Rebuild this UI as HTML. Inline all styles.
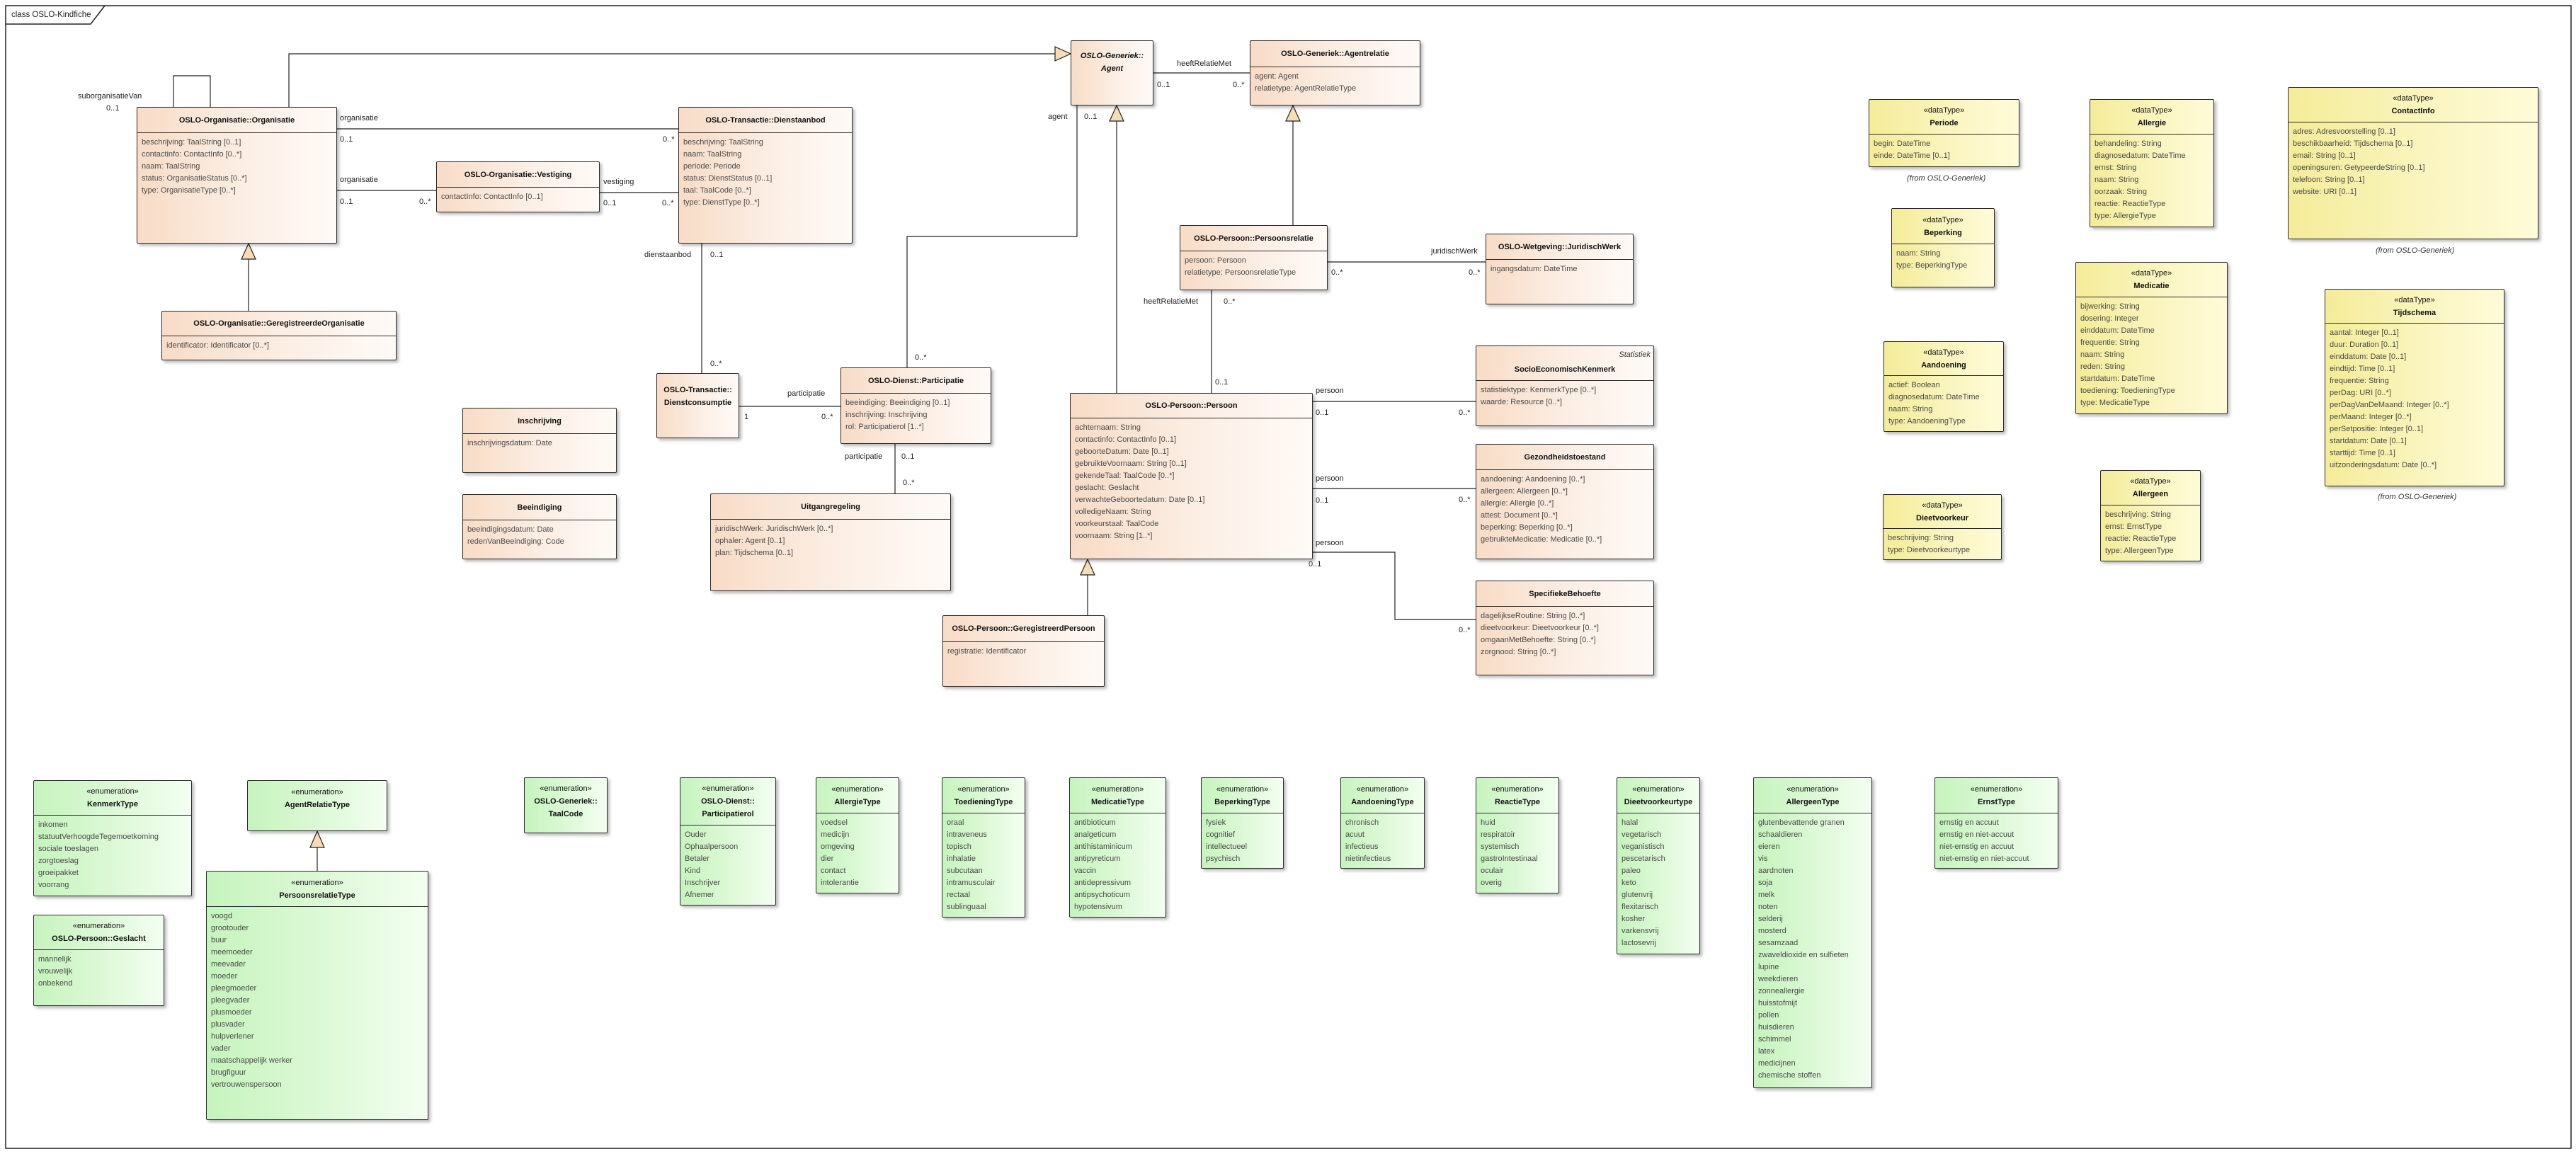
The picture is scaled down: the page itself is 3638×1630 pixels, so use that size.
<!DOCTYPE html>
<html><head><meta charset="utf-8">
<style>
html,body{margin:0;padding:0;background:#fff;}
body{width:3638px;height:1630px;position:relative;overflow:hidden;font-family:"Liberation Sans",sans-serif;}
.b{position:absolute;border:1px solid #2a2a2a;box-shadow:3px 3px 4px rgba(0,0,0,.28);border-radius:2px;font-size:11px;box-sizing:border-box;overflow:hidden;}
.c{background:linear-gradient(to right,#f8dcc6 0%,#fcefe5 55%,#fffaf7 100%);}
.d{background:linear-gradient(to right,#f4ec98 0%,#faf5bf 55%,#fffbd8 100%);}
.e{background:linear-gradient(to right,#c6f4bd 0%,#def9d8 55%,#f3fff1 100%);}
.h{box-sizing:border-box;border-bottom:1px solid #2a2a2a;display:flex;flex-direction:column;justify-content:center;align-items:center;text-align:center;line-height:18px;color:#111;}
.n{border-bottom:none;}
.h b{font-weight:bold;}
.a{color:#4a4a4a;line-height:17px;padding:5px 0 0 6px;white-space:nowrap;}
.s{position:absolute;font-size:11px;color:#333;font-style:italic;white-space:nowrap;}
svg{position:absolute;left:0;top:0;}
</style></head><body>
<svg width="3638" height="1630" viewBox="0 0 3638 1630">
<g fill="none" stroke="#222" stroke-width="1.5">
<rect x="8" y="8" width="3623" height="1614"/>
<polyline points="8,34 128,34 148,8"/>
</g>
<g fill="none" stroke="#222" stroke-width="1.2">
<polyline points="245,151 245,107 297,107 297,151"/>
<polyline points="408,151 408,76 1490,76"/>
<line x1="476" y1="182" x2="958" y2="182"/>
<line x1="476" y1="269" x2="616" y2="269"/>
<line x1="847" y1="272" x2="958" y2="272"/>
<line x1="351" y1="439" x2="351" y2="366"/>
<line x1="991" y1="344" x2="991" y2="527"/>
<line x1="1044" y1="574" x2="1187" y2="574"/>
<line x1="1264" y1="627" x2="1264" y2="697"/>
<polyline points="1521,149 1521,334 1281,334 1281,519"/>
<line x1="1629" y1="103" x2="1765" y2="103"/>
<line x1="1577" y1="555" x2="1577" y2="171"/>
<line x1="1826" y1="318" x2="1826" y2="171"/>
<line x1="1875" y1="370" x2="2098" y2="370"/>
<line x1="1711" y1="410" x2="1711" y2="555"/>
<line x1="1854" y1="567" x2="2084" y2="567"/>
<line x1="1854" y1="690" x2="2084" y2="690"/>
<polyline points="1854,780 1970,780 1970,875 2084,875"/>
<line x1="1536" y1="869" x2="1536" y2="812"/>
<line x1="448" y1="1230" x2="448" y2="1197"/>
</g>
<g fill="#f7dcb5" stroke="#222" stroke-width="1.2">
<polygon points="1490,66 1512,76 1490,86"/>
<polygon points="341,366 351,344 361,366"/>
<polygon points="1567,171 1577,149 1587,171"/>
<polygon points="1816,171 1826,149 1836,171"/>
<polygon points="1526,812 1536,790 1546,812"/>
<polygon points="438,1197 448,1174 458,1197"/>
</g>
<g font-family="Liberation Sans, sans-serif" font-size="11" fill="#222" dominant-baseline="central">
<text x="16" y="21" font-size="11.5">class OSLO-Kindfiche</text>
<text x="110" y="136">suborganisatieVan</text><text x="150" y="153">0..1</text>
<text x="480" y="167">organisatie</text><text x="480" y="197">0..1</text><text x="936" y="197">0..*</text>
<text x="480" y="254">organisatie</text><text x="480" y="285">0..1</text><text x="592" y="285">0..*</text>
<text x="852" y="257">vestiging</text><text x="852" y="287">0..1</text><text x="935" y="287">0..*</text>
<text x="910" y="360">dienstaanbod</text><text x="1003" y="360">0..1</text><text x="1003" y="514">0..*</text>
<text x="1480" y="165">agent</text><text x="1531" y="165">0..1</text><text x="1292" y="505">0..*</text>
<text x="1662" y="90">heeftRelatieMet</text><text x="1634" y="120">0..1</text><text x="1741" y="120">0..*</text>
<text x="2021" y="355">juridischWerk</text><text x="1880" y="385">0..*</text><text x="2074" y="385">0..*</text>
<text x="1615" y="426">heeftRelatieMet</text><text x="1728" y="426">0..*</text><text x="1716" y="540">0..1</text>
<text x="1112" y="556">participatie</text><text x="1051" y="589">1</text><text x="1160" y="589">0..*</text>
<text x="1193" y="645">participatie</text><text x="1273" y="645">0..1</text><text x="1275" y="682">0..*</text>
<text x="1858" y="552">persoon</text><text x="1858" y="583">0..1</text><text x="2060" y="583">0..*</text>
<text x="1858" y="676">persoon</text><text x="1858" y="707">0..1</text><text x="2060" y="706">0..*</text>
<text x="1858" y="767">persoon</text><text x="1848" y="797">0..1</text><text x="2060" y="890">0..*</text>
</g>
</svg>

<!-- classes -->
<div class="b c" style="left:193px;top:151px;width:283px;height:193px"><div class="h" style="height:36px"><b>OSLO-Organisatie::Organisatie</b></div><div class="a">beschrijving: TaalString [0..1]<br>contactinfo: ContactInfo [0..*]<br>naam: TaalString<br>status: OrganisatieStatus [0..*]<br>type: OrganisatieType [0..*]</div></div>
<div class="b c" style="left:958px;top:151px;width:246px;height:193px"><div class="h" style="height:36px"><b>OSLO-Transactie::Dienstaanbod</b></div><div class="a">beschrijving: TaalString<br>naam: TaalString<br>periode: Periode<br>status: DienstStatus [0..1]<br>taal: TaalCode [0..*]<br>type: DienstType [0..*]</div></div>
<div class="b c" style="left:616px;top:228px;width:231px;height:72px"><div class="h" style="height:36px"><b>OSLO-Organisatie::Vestiging</b></div><div class="a">contactInfo: ContactInfo [0..1]</div></div>
<div class="b c" style="left:228px;top:439px;width:332px;height:70px"><div class="h" style="height:35px"><b>OSLO-Organisatie::GeregistreerdeOrganisatie</b></div><div class="a">identificator: Identificator [0..*]</div></div>
<div class="b c" style="left:1512px;top:57px;width:117px;height:92px"><div class="h n" style="height:48px;justify-content:flex-end"><b><i>OSLO-Generiek::</i></b><b><i>Agent</i></b></div></div>
<div class="b c" style="left:1765px;top:57px;width:241px;height:92px"><div class="h" style="height:37px"><b>OSLO-Generiek::Agentrelatie</b></div><div class="a">agent: Agent<br>relatietype: AgentRelatieType</div></div>
<div class="b c" style="left:1666px;top:318px;width:209px;height:92px"><div class="h" style="height:36px"><b>OSLO-Persoon::Persoonsrelatie</b></div><div class="a">persoon: Persoon<br>relatietype: PersoonsrelatieType</div></div>
<div class="b c" style="left:2098px;top:330px;width:209px;height:100px"><div class="h" style="height:36px"><b>OSLO-Wetgeving::JuridischWerk</b></div><div class="a">ingangsdatum: DateTime</div></div>
<div class="b c" style="left:927px;top:527px;width:117px;height:92px"><div class="h n" style="height:50px;justify-content:flex-end"><b>OSLO-Transactie::</b><b>Dienstconsumptie</b></div></div>
<div class="b c" style="left:1187px;top:519px;width:213px;height:108px"><div class="h" style="height:36px"><b>OSLO-Dienst::Participatie</b></div><div class="a">beeindiging: Beeindiging [0..1]<br>inschrijving: Inschrijving<br>rol: Participatierol [1..*]</div></div>
<div class="b c" style="left:1003px;top:697px;width:340px;height:138px"><div class="h" style="height:36px"><b>Uitgangregeling</b></div><div class="a">juridischWerk: JuridischWerk [0..*]<br>ophaler: Agent [0..1]<br>plan: Tijdschema [0..1]</div></div>
<div class="b c" style="left:653px;top:576px;width:218px;height:92px"><div class="h" style="height:36px"><b>Inschrijving</b></div><div class="a">inschrijvingsdatum: Date</div></div>
<div class="b c" style="left:653px;top:698px;width:218px;height:92px"><div class="h" style="height:36px"><b>Beeindiging</b></div><div class="a">beeindigingsdatum: Date<br>redenVanBeeindiging: Code</div></div>
<div class="b c" style="left:1331px;top:869px;width:229px;height:101px"><div class="h" style="height:37px"><b>OSLO-Persoon::GeregistreerdPersoon</b></div><div class="a">registratie: Identificator</div></div>
<div class="b c" style="left:1511px;top:555px;width:343px;height:235px"><div class="h" style="height:35px"><b>OSLO-Persoon::Persoon</b></div><div class="a">achternaam: String<br>contactinfo: ContactInfo [0..1]<br>geboorteDatum: Date [0..1]<br>gebruikteVoornaam: String [0..1]<br>gekendeTaal: TaalCode [0..*]<br>geslacht: Geslacht<br>verwachteGeboortedatum: Date [0..1]<br>volledigeNaam: String<br>voorkeurstaal: TaalCode<br>voornaam: String [1..*]</div></div>
<div class="b c" style="left:2084px;top:488px;width:252px;height:114px"><div class="h" style="height:49px;justify-content:flex-end;padding-bottom:6px"><b>SocioEconomischKenmerk</b></div><div class="a">statistiektype: KenmerkType [0..*]<br>waarde: Resource [0..*]</div><span class="s" style="right:4px;top:6px">Statistiek</span></div>
<div class="b c" style="left:2084px;top:627px;width:252px;height:163px"><div class="h" style="height:36px"><b>Gezondheidstoestand</b></div><div class="a">aandoening: Aandoening [0..*]<br>allergeen: Allergeen [0..*]<br>allergie: Allergie [0..*]<br>attest: Document [0..*]<br>beperking: Beperking [0..*]<br>gebruikteMedicatie: Medicatie [0..*]</div></div>
<div class="b c" style="left:2084px;top:820px;width:252px;height:134px"><div class="h" style="height:36px"><b>SpecifiekeBehoefte</b></div><div class="a">dagelijkseRoutine: String [0..*]<br>dieetvoorkeur: Dieetvoorkeur [0..*]<br>omgaanMetBehoefte: String [0..*]<br>zorgnood: String [0..*]</div></div>

<!-- datatypes -->
<div class="b d" style="left:2639px;top:140px;width:213px;height:96px"><div class="h" style="height:49px">«dataType»<b>Periode</b></div><div class="a">begin: DateTime<br>einde: DateTime [0..1]</div></div>
<span class="s" style="left:2693px;top:246px">(from OSLO-Generiek)</span>
<div class="b d" style="left:2951px;top:140px;width:176px;height:181px"><div class="h" style="height:49px">«dataType»<b>Allergie</b></div><div class="a">behandeling: String<br>diagnosedatum: DateTime<br>ernst: String<br>naam: String<br>oorzaak: String<br>reactie: ReactieType<br>type: AllergieType</div></div>
<div class="b d" style="left:3231px;top:123px;width:354px;height:215px"><div class="h" style="height:49px">«dataType»<b>ContactInfo</b></div><div class="a">adres: Adresvoorstelling [0..1]<br>beschikbaarheid: Tijdschema [0..1]<br>email: String [0..1]<br>openingsuren: GetypeerdeString [0..1]<br>telefoon: String [0..1]<br>website: URI [0..1]</div></div>
<span class="s" style="left:3355px;top:348px">(from OSLO-Generiek)</span>
<div class="b d" style="left:2671px;top:294px;width:146px;height:112px"><div class="h" style="height:50px">«dataType»<b>Beperking</b></div><div class="a">naam: String<br>type: BeperkingType</div></div>
<div class="b d" style="left:2931px;top:370px;width:215px;height:215px"><div class="h" style="height:49px">«dataType»<b>Medicatie</b></div><div class="a">bijwerking: String<br>dosering: Integer<br>einddatum: DateTime<br>frequentie: String<br>naam: String<br>reden: String<br>startdatum: DateTime<br>toediening: ToedieningType<br>type: MedicatieType</div></div>
<div class="b d" style="left:3283px;top:408px;width:254px;height:279px"><div class="h" style="height:48px">«dataType»<b>Tijdschema</b></div><div class="a">aantal: Integer [0..1]<br>duur: Duration [0..1]<br>einddatum: Date [0..1]<br>eindtijd: Time [0..1]<br>frequentie: String<br>perDag: URI [0..*]<br>perDagVanDeMaand: Integer [0..*]<br>perMaand: Integer [0..*]<br>perSetpositie: Integer [0..1]<br>startdatum: Date [0..1]<br>starttijd: Time [0..1]<br>uitzonderingsdatum: Date [0..*]</div></div>
<span class="s" style="left:3358px;top:696px">(from OSLO-Generiek)</span>
<div class="b d" style="left:2660px;top:482px;width:170px;height:128px"><div class="h" style="height:48px">«dataType»<b>Aandoening</b></div><div class="a">actief: Boolean<br>diagnosedatum: DateTime<br>naam: String<br>type: AandoeningType</div></div>
<div class="b d" style="left:2659px;top:698px;width:168px;height:93px"><div class="h" style="height:48px">«dataType»<b>Dieetvoorkeur</b></div><div class="a">beschrijving: String<br>type: Dieetvoorkeurtype</div></div>
<div class="b d" style="left:2966px;top:664px;width:142px;height:129px"><div class="h" style="height:49px">«dataType»<b>Allergeen</b></div><div class="a">beschrijving: String<br>ernst: ErnstType<br>reactie: ReactieType<br>type: AllergeenType</div></div>

<!-- enumerations -->
<div class="b e" style="left:47px;top:1102px;width:224px;height:164px"><div class="h" style="height:49px">«enumeration»<b>KenmerkType</b></div><div class="a">inkomen<br>statuutVerhoogdeTegemoetkoming<br>sociale toeslagen<br>zorgtoeslag<br>groeipakket<br>voorrang</div></div>
<div class="b e" style="left:349px;top:1102px;width:198px;height:72px"><div class="h n" style="height:50px">«enumeration»<b>AgentRelatieType</b></div></div>
<div class="b e" style="left:291px;top:1230px;width:314px;height:352px"><div class="h" style="height:50px">«enumeration»<b>PersoonsrelatieType</b></div><div class="a">voogd<br>grootouder<br>buur<br>meemoeder<br>meevader<br>moeder<br>pleegmoeder<br>pleegvader<br>plusmoeder<br>plusvader<br>hulpverlener<br>vader<br>maatschappelijk werker<br>brugfiguur<br>vertrouwenspersoon</div></div>
<div class="b e" style="left:47px;top:1292px;width:185px;height:129px"><div class="h" style="height:49px">«enumeration»<b>OSLO-Persoon::Geslacht</b></div><div class="a">mannelijk<br>vrouwelijk<br>onbekend</div></div>
<div class="b e" style="left:740px;top:1098px;width:118px;height:79px"><div class="h n" style="height:66px">«enumeration»<b>OSLO-Generiek::</b><b>TaalCode</b></div></div>
<div class="b e" style="left:960px;top:1098px;width:136px;height:181px"><div class="h" style="height:67px">«enumeration»<b>OSLO-Dienst::</b><b>Participatierol</b></div><div class="a">Ouder<br>Ophaalpersoon<br>Betaler<br>Kind<br>Inschrijver<br>Afnemer</div></div>
<div class="b e" style="left:1152px;top:1098px;width:118px;height:164px"><div class="h" style="height:50px">«enumeration»<b>AllergieType</b></div><div class="a">voedsel<br>medicijn<br>omgeving<br>dier<br>contact<br>intolerantie</div></div>
<div class="b e" style="left:1330px;top:1098px;width:118px;height:198px"><div class="h" style="height:50px">«enumeration»<b>ToedieningType</b></div><div class="a">oraal<br>intraveneus<br>topisch<br>inhalatie<br>subcutaan<br>intramusculair<br>rectaal<br>sublinguaal</div></div>
<div class="b e" style="left:1510px;top:1098px;width:137px;height:198px"><div class="h" style="height:50px">«enumeration»<b>MedicatieType</b></div><div class="a">antibioticum<br>analgeticum<br>antihistaminicum<br>antipyreticum<br>vaccin<br>antidepressivum<br>antipsychoticum<br>hypotensivum</div></div>
<div class="b e" style="left:1696px;top:1098px;width:117px;height:129px"><div class="h" style="height:50px">«enumeration»<b>BeperkingType</b></div><div class="a">fysiek<br>cognitief<br>intellectueel<br>psychisch</div></div>
<div class="b e" style="left:1893px;top:1098px;width:119px;height:129px"><div class="h" style="height:50px">«enumeration»<b>AandoeningType</b></div><div class="a">chronisch<br>acuut<br>infectieus<br>nietinfectieus</div></div>
<div class="b e" style="left:2084px;top:1098px;width:118px;height:164px"><div class="h" style="height:50px">«enumeration»<b>ReactieType</b></div><div class="a">huid<br>respiratoir<br>systemisch<br>gastroIntestinaal<br>oculair<br>overig</div></div>
<div class="b e" style="left:2283px;top:1098px;width:118px;height:250px"><div class="h" style="height:50px">«enumeration»<b>Dieetvoorkeurtype</b></div><div class="a">halal<br>vegetarisch<br>veganistisch<br>pescetarisch<br>paleo<br>keto<br>glutenvrij<br>flexitarisch<br>kosher<br>varkensvrij<br>lactosevrij</div></div>
<div class="b e" style="left:2476px;top:1098px;width:168px;height:439px"><div class="h" style="height:50px">«enumeration»<b>AllergeenType</b></div><div class="a">glutenbevattende granen<br>schaaldieren<br>eieren<br>vis<br>aardnoten<br>soja<br>melk<br>noten<br>selderij<br>mosterd<br>sesamzaad<br>zwaveldioxide en sulfieten<br>lupine<br>weekdieren<br>zonneallergie<br>huisstofmijt<br>pollen<br>huisdieren<br>schimmel<br>latex<br>medicijnen<br>chemische stoffen</div></div>
<div class="b e" style="left:2732px;top:1098px;width:175px;height:129px"><div class="h" style="height:50px">«enumeration»<b>ErnstType</b></div><div class="a">ernstig en accuut<br>ernstig en niet-accuut<br>niet-ernstig en accuut<br>niet-ernstig en niet-accuut</div></div>
</body></html>
